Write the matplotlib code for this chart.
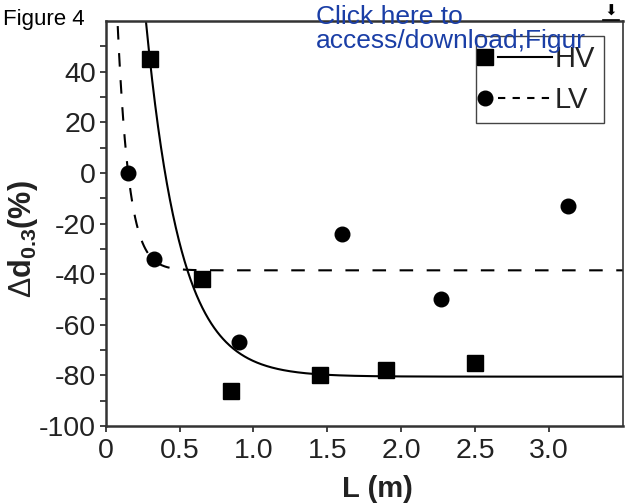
import numpy as np
import matplotlib
matplotlib.use("Agg")
import matplotlib.pyplot as plt
from matplotlib.legend_handler import HandlerLine2D
from matplotlib.lines import Line2D

plt.rcParams['font.family'] = ['Liberation Sans', 'DejaVu Sans']
plt.rcParams['mathtext.fontset'] = 'custom'
plt.rcParams['mathtext.rm'] = 'Liberation Sans'
plt.rcParams['mathtext.bf'] = 'Liberation Sans:bold'
plt.rcParams['mathtext.it'] = 'Liberation Sans:italic'
plt.rcParams['axes.unicode_minus'] = False

# ---- data ----
hv_L = [0.30, 0.65, 0.85, 1.45, 1.90, 2.50]
hv_d = [45, -42, -86, -80, -78, -75]
lv_L = [0.15, 0.33, 0.90, 1.60, 2.27, 3.13]
lv_d = [0, -34, -67, -24, -50, -13]

# exponential fit curves: y = c + A*exp(-k*L)
hv_fit = dict(c=-80.5, A=454.0, k=4.3)
lv_fit = dict(c=-38.5, A=280.0, k=13.0)

xticks = [0, 0.5, 1.0, 1.5, 2.0, 2.5, 3.0]
xtick_labels = ['0', '0.5', '1.0', '1.5', '2.0', '2.5', '3.0']
yticks = [-100, -80, -60, -40, -20, 0, 20, 40]

W, H = 625, 504
fig = plt.figure(figsize=(W / 100, H / 100), dpi=100)
ax = fig.add_axes([105.6 / W, 1 - 426 / H, (623 - 105.6) / W, (426 - 21) / H])

xs = np.linspace(0.005, 3.5, 700)
ax.plot(xs, hv_fit['c'] + hv_fit['A'] * np.exp(-hv_fit['k'] * xs), color='black', lw=1.5)
ax.plot(xs, lv_fit['c'] + lv_fit['A'] * np.exp(-lv_fit['k'] * xs), color='black', lw=1.5,
        dashes=(6.5, 6.5))
ax.plot(hv_L, hv_d, 's', color='black', ms=11.5, zorder=3)
ax.plot(lv_L, lv_d, 'o', color='black', ms=10.5, zorder=3)

ax.set_xlim(0, 3.5)
ax.set_ylim(-100, 60)
ax.set_xticks(xticks)
ax.set_xticklabels(xtick_labels)
ax.set_yticks(yticks)
ax.set_yticks(np.arange(-90, 60, 20), minor=True)
ax.tick_params(axis='both', which='both', direction='out', length=4.5, width=1.2,
               colors='#222222', labelsize=20.5)
ax.tick_params(axis='x', which='major', pad=4)
ax.tick_params(axis='y', which='major', pad=2.5)
ax.tick_params(axis='x', which='minor', bottom=False)

for side in ['left', 'bottom', 'top']:
    ax.spines[side].set_linewidth(1.8)
    ax.spines[side].set_color('#333333')
ax.spines['right'].set_linewidth(1.2)
ax.spines['right'].set_color('#333333')

ax.set_xlabel('L (m)', fontsize=21, fontweight='bold', color='#222222')
ax.xaxis.set_label_coords(0.525, -0.12)
ax.set_ylabel(r'$\Delta\mathbf{d}_{\mathbf{0.3}}\mathbf{(\%)}$', fontsize=22,
              color='#222222')
ax.yaxis.set_label_coords(-0.127, 0.462)


class MarkerLeftHandler(HandlerLine2D):
    def create_artists(self, legend, orig_handle, xdescent, ydescent, width, height,
                       fontsize, trans):
        y = (height - ydescent) / 2
        x0 = -xdescent
        line = Line2D([x0 + 0.2 * width, x0 + width], [y, y])
        self.update_prop(line, orig_handle, legend)
        line.set_marker('None')
        mk = Line2D([x0], [y])
        self.update_prop(mk, orig_handle, legend)
        mk.set_linestyle('None')
        line.set_transform(trans)
        mk.set_transform(trans)
        return [line, mk]


h_hv = Line2D([], [], color='black', lw=1.5, marker='s', ms=11.5)
h_lv = Line2D([], [], color='black', lw=1.5, marker='o', ms=10.5, dashes=(3.5, 3.5))
leg = ax.legend([h_hv, h_lv], ['HV', 'LV'], loc='upper right',
                bbox_to_anchor=(0.963, 0.962), borderaxespad=0, fontsize=21,
                handlelength=2.3, handletextpad=0.1, borderpad=0.3, labelspacing=0.45,
                fancybox=False, framealpha=1, edgecolor='#444444',
                handler_map={Line2D: MarkerLeftHandler()})
leg.get_frame().set_linewidth(1.0)
for t in leg.get_texts():
    t.set_color('#222222')

fig.text(3 / W, 1 - 20 / H, 'Figure 4', fontsize=16, va='center', ha='left', color='black')
fig.text(316 / W, 1 - 5 / H, 'Click here to\naccess/download;Figur', fontsize=19,
         va='top', ha='left', color='#1a3ea6', linespacing=0.98, zorder=10)
fig.text(611 / W, 1 - 11 / H, '\u2B07', fontsize=11, ha='center', va='center',
         color='black', family=['DejaVu Sans'])
fig.add_artist(Line2D([603 / W, 619 / W], [1 - 20 / H, 1 - 20 / H], color='black', lw=1.2))

fig.savefig('out.png', dpi=100)
